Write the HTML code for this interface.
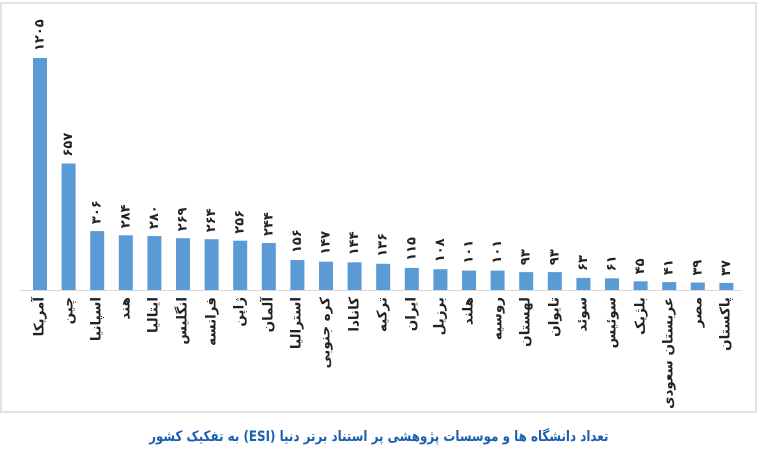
<!DOCTYPE html>
<html><head><meta charset="utf-8">
<style>
html,body{margin:0;padding:0;background:#fff;}
#c{position:relative;width:784px;height:474px;overflow:hidden;font-family:"DejaVu Sans","Liberation Sans",sans-serif;}
.frame{position:absolute;left:0;top:2px;width:757px;height:411px;border:2px solid #e2e2e2;box-sizing:border-box;}
.l{position:absolute;white-space:nowrap;font-size:13.5px;font-weight:bold;color:#222;transform-origin:0 0;transform:rotate(-90deg) translate(-100%,-50%);line-height:15px;direction:rtl;}
.title{position:absolute;left:0;width:757px;top:429px;text-align:center;font-size:14.5px;font-weight:bold;color:#1a5fb0;direction:rtl;transform:scaleX(0.82);transform-origin:380px 0;}
svg{position:absolute;left:0;top:0;}
</style></head><body><div id="c">
<div class="frame"></div>
<svg width="784" height="474" viewBox="0 0 784 474">
<line x1="20" y1="290.5" x2="742" y2="290.5" stroke="#d9d9d9" stroke-width="1"/>
<g fill="#5b9bd5">
<rect x="33" y="58" width="14" height="232"/>
<rect x="61.6" y="163.5" width="14" height="126.5"/>
<rect x="90.2" y="231.1" width="14" height="58.9"/>
<rect x="118.8" y="235.3" width="14" height="54.7"/>
<rect x="147.4" y="236.1" width="14" height="53.9"/>
<rect x="176" y="238.2" width="14" height="51.8"/>
<rect x="204.6" y="239.2" width="14" height="50.8"/>
<rect x="233.2" y="240.7" width="14" height="49.3"/>
<rect x="261.8" y="243" width="14" height="47"/>
<rect x="290.4" y="260" width="14" height="30"/>
<rect x="319" y="261.7" width="14" height="28.3"/>
<rect x="347.6" y="262.3" width="14" height="27.7"/>
<rect x="376.2" y="263.8" width="14" height="26.2"/>
<rect x="404.8" y="267.9" width="14" height="22.1"/>
<rect x="433.4" y="269.2" width="14" height="20.8"/>
<rect x="462" y="270.6" width="14" height="19.4"/>
<rect x="490.6" y="270.6" width="14" height="19.4"/>
<rect x="519.2" y="272.1" width="14" height="17.9"/>
<rect x="547.8" y="272.1" width="14" height="17.9"/>
<rect x="576.4" y="277.9" width="14" height="12.1"/>
<rect x="605" y="278.3" width="14" height="11.7"/>
<rect x="633.6" y="281.3" width="14" height="8.7"/>
<rect x="662.2" y="282.1" width="14" height="7.9"/>
<rect x="690.8" y="282.5" width="14" height="7.5"/>
<rect x="719.4" y="282.9" width="14" height="7.1"/>
</g>
<g font-family="DejaVu Sans, sans-serif" font-size="13" font-weight="bold" letter-spacing="1" fill="#222" dominant-baseline="central" text-anchor="start">
<text transform="translate(40,51) rotate(-90)">۱۲۰۵</text>
<text transform="translate(68.6,156.5) rotate(-90)">۶۵۷</text>
<text transform="translate(97.2,224.1) rotate(-90)">۳۰۶</text>
<text transform="translate(125.8,228.3) rotate(-90)">۲۸۴</text>
<text transform="translate(154.4,229.1) rotate(-90)">۲۸۰</text>
<text transform="translate(183,231.2) rotate(-90)">۲۶۹</text>
<text transform="translate(211.6,232.2) rotate(-90)">۲۶۴</text>
<text transform="translate(240.2,233.7) rotate(-90)">۲۵۶</text>
<text transform="translate(268.8,236) rotate(-90)">۲۴۴</text>
<text transform="translate(297.4,253) rotate(-90)">۱۵۶</text>
<text transform="translate(326,254.7) rotate(-90)">۱۴۷</text>
<text transform="translate(354.6,255.3) rotate(-90)">۱۴۴</text>
<text transform="translate(383.2,256.8) rotate(-90)">۱۳۶</text>
<text transform="translate(411.8,260.9) rotate(-90)">۱۱۵</text>
<text transform="translate(440.4,262.2) rotate(-90)">۱۰۸</text>
<text transform="translate(469,263.6) rotate(-90)">۱۰۱</text>
<text transform="translate(497.6,263.6) rotate(-90)">۱۰۱</text>
<text transform="translate(526.2,265.1) rotate(-90)">۹۳</text>
<text transform="translate(554.8,265.1) rotate(-90)">۹۳</text>
<text transform="translate(583.4,270.9) rotate(-90)">۶۳</text>
<text transform="translate(612,271.3) rotate(-90)">۶۱</text>
<text transform="translate(640.6,274.3) rotate(-90)">۴۵</text>
<text transform="translate(669.2,275.1) rotate(-90)">۴۱</text>
<text transform="translate(697.8,275.5) rotate(-90)">۳۹</text>
<text transform="translate(726.4,275.9) rotate(-90)">۳۷</text>
</g>
</svg>
<div class="l" style="left:40px;top:297px">آمریکا</div>
<div class="l" style="left:68.6px;top:297px">چین</div>
<div class="l" style="left:97.2px;top:297px">اسپانیا</div>
<div class="l" style="left:125.8px;top:297px">هند</div>
<div class="l" style="left:154.4px;top:297px">ایتالیا</div>
<div class="l" style="left:183px;top:297px">انگلیس</div>
<div class="l" style="left:211.6px;top:297px">فرانسه</div>
<div class="l" style="left:240.2px;top:297px">ژاپن</div>
<div class="l" style="left:268.8px;top:297px">آلمان</div>
<div class="l" style="left:297.4px;top:297px">استرالیا</div>
<div class="l" style="left:326px;top:297px">کره جنوبی</div>
<div class="l" style="left:354.6px;top:297px">کانادا</div>
<div class="l" style="left:383.2px;top:297px">ترکیه</div>
<div class="l" style="left:411.8px;top:297px">ایران</div>
<div class="l" style="left:440.4px;top:297px">برزیل</div>
<div class="l" style="left:469px;top:297px">هلند</div>
<div class="l" style="left:497.6px;top:297px">روسیه</div>
<div class="l" style="left:526.2px;top:297px">لهستان</div>
<div class="l" style="left:554.8px;top:297px">تایوان</div>
<div class="l" style="left:583.4px;top:297px">سوئد</div>
<div class="l" style="left:612px;top:297px">سوئیس</div>
<div class="l" style="left:640.6px;top:297px">بلژیک</div>
<div class="l" style="left:669.2px;top:297px">عربستان سعودی</div>
<div class="l" style="left:697.8px;top:297px">مصر</div>
<div class="l" style="left:726.4px;top:297px">پاکستان</div>
<div class="title">تعداد دانشگاه ها و موسسات پژوهشی پر استناد برتر دنیا (ESI) به تفکیک کشور</div>
</div>
</body></html>
